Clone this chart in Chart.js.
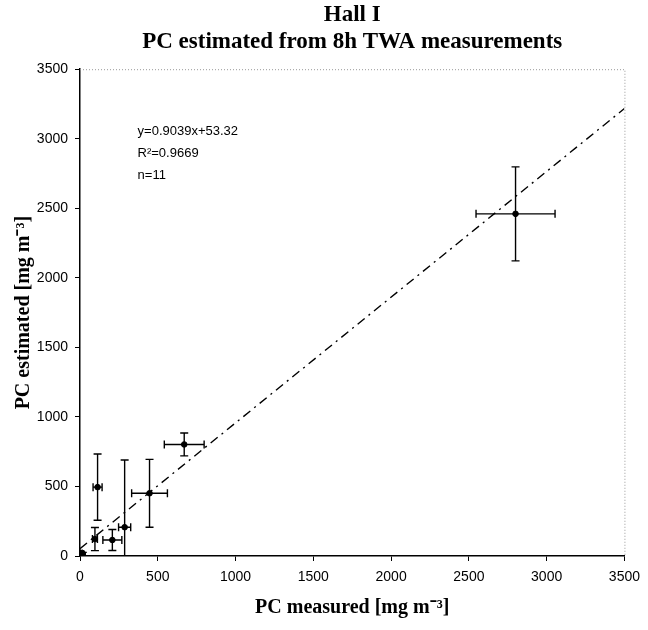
<!DOCTYPE html>
<html>
<head>
<meta charset="utf-8">
<script src="https://cdn.jsdelivr.net/npm/chart.js@4.4.0/dist/chart.umd.min.js"></script>
<style>
  html, body { margin: 0; padding: 0; background: #fff; }
</style>
</head>
<body>
<canvas id="hallChart" width="648" height="630"></canvas>
<script>
// values (several points sit on top of each other near 0)
var measured     = [5, 12, 18, 8, 96, 113, 208, 287, 447, 670, 2800];
var estimated    = [8, 4, 14, 18, 122, 495, 115, 207, 451, 802, 2460];
var measuredErr  = [6, 6, 6, 6, 16, 29, 61, 39, 115, 128, 254];
var estimatedErr = [12, 12, 12, 12, 83, 238, 75, 483, 244, 82, 338];

// trend line from the printed equation
var fitSlope = 0.9039;
var fitIntercept = 53.32;
var fitRange = [0, 3500];
var fitText = ['y=0.9039x+53.32', 'R²=0.9669', 'n=11'];

var axisMin = 0;
var axisMax = 3500;
var axisStep = 500;

var serif = "'Liberation Serif', 'Times New Roman', serif";
var sans = "'Liberation Sans', Arial, sans-serif";

var points = [];
for (var i = 0; i < measured.length; i++) {
    points.push({ x: measured[i], y: estimated[i] });
}
var fitLine = fitRange.map(function (v) {
    return { x: v, y: fitSlope * v + fitIntercept };
});

// whiskers in both directions, drawn under the points
var errorBars = {
    id: 'errorBars',
    beforeDatasetsDraw: function (chart) {
        var ctx = chart.ctx, xs = chart.scales.x, ys = chart.scales.y, a = chart.chartArea;
        var cap = 4;
        ctx.save();
        ctx.beginPath();
        ctx.rect(a.left, a.top, a.right - a.left, a.bottom - a.top);
        ctx.clip();
        ctx.strokeStyle = '#000';
        ctx.lineWidth = 1.4;
        for (var i = 0; i < measured.length; i++) {
            var px = xs.getPixelForValue(measured[i]);
            var py = ys.getPixelForValue(estimated[i]);
            var x0 = xs.getPixelForValue(measured[i] - measuredErr[i]);
            var x1 = xs.getPixelForValue(measured[i] + measuredErr[i]);
            var y0 = ys.getPixelForValue(estimated[i] - estimatedErr[i]);
            var y1 = ys.getPixelForValue(estimated[i] + estimatedErr[i]);
            ctx.beginPath();
            ctx.moveTo(x0, py); ctx.lineTo(x1, py);
            ctx.moveTo(x0, py - cap); ctx.lineTo(x0, py + cap);
            ctx.moveTo(x1, py - cap); ctx.lineTo(x1, py + cap);
            ctx.moveTo(px, y0); ctx.lineTo(px, y1);
            ctx.moveTo(px - cap, y0); ctx.lineTo(px + cap, y0);
            ctx.moveTo(px - cap, y1); ctx.lineTo(px + cap, y1);
            ctx.stroke();
        }
        ctx.restore();
    }
};

// faint dotted frame on top and right, plus the equation text
var frameAndNote = {
    id: 'frameAndNote',
    afterDraw: function (chart) {
        var ctx = chart.ctx, a = chart.chartArea, xs = chart.scales.x, ys = chart.scales.y;
        ctx.save();
        ctx.strokeStyle = '#999';
        ctx.lineWidth = 1;
        ctx.setLineDash([1, 2]);
        ctx.beginPath();
        ctx.moveTo(a.left, a.top + 0.5);
        ctx.lineTo(a.right + 0.5, a.top + 0.5);
        ctx.lineTo(a.right + 0.5, a.bottom);
        ctx.stroke();
        ctx.setLineDash([]);

        ctx.fillStyle = '#000';
        ctx.font = '13px ' + sans;
        ctx.textBaseline = 'middle';
        var tx = xs.getPixelForValue(370);
        var ty = ys.getPixelForValue(3055);
        fitText.forEach(function (t, k) {
            ctx.fillText(t, tx, ty + k * 22);
        });
        ctx.restore();
    }
};

function plainTick(value) {
    return String(value);
}

new Chart(document.getElementById('hallChart'), {
    type: 'scatter',
    data: {
        datasets: [
            {
                label: 'PC',
                data: points,
                pointRadius: 2.8,
                pointBackgroundColor: '#000',
                pointBorderColor: '#000',
                showLine: false
            },
            {
                type: 'line',
                label: 'fit',
                data: fitLine,
                borderColor: '#000',
                borderWidth: 1.4,
                borderDash: [9, 5, 2, 5],
                pointRadius: 0,
                fill: false
            }
        ]
    },
    options: {
        responsive: false,
        animation: false,
        layout: { padding: { right: 23 } },
        plugins: {
            legend: { display: false },
            tooltip: { enabled: false },
            title: {
                display: true,
                fullSize: false,
                text: ['Hall I', 'PC estimated from 8h TWA measurements'],
                color: '#000',
                font: { family: serif, size: 23, weight: 'bold', lineHeight: 1.2 },
                padding: { top: 1, bottom: 13 }
            }
        },
        scales: {
            x: {
                type: 'linear',
                min: axisMin,
                max: axisMax,
                ticks: { stepSize: axisStep, color: '#000', font: { family: sans, size: 14 }, padding: 8, maxRotation: 0, callback: plainTick },
                grid: { drawOnChartArea: false, drawTicks: true, tickLength: 5, color: '#000' },
                border: { display: true, color: '#000', width: 1.5 },
                title: {
                    display: true,
                    text: 'PC measured [mg m⁻³]',
                    color: '#000',
                    font: { family: serif, size: 20, weight: 'bold' },
                    padding: { top: 4, bottom: 10 }
                },
                afterFit: function (s) { s.height = 74; }
            },
            y: {
                type: 'linear',
                min: axisMin,
                max: axisMax,
                ticks: { stepSize: axisStep, color: '#000', font: { family: sans, size: 14 }, padding: 7, callback: plainTick },
                grid: { drawOnChartArea: false, drawTicks: true, tickLength: 5, color: '#000' },
                border: { display: true, color: '#000', width: 1.5 },
                title: {
                    display: true,
                    text: 'PC estimated [mg m⁻³]',
                    color: '#000',
                    font: { family: serif, size: 20, weight: 'bold' },
                    padding: { top: 12, bottom: 0 }
                },
                afterFit: function (s) { s.width = 80; }
            }
        }
    },
    plugins: [errorBars, frameAndNote]
});
</script>
</body>
</html>
